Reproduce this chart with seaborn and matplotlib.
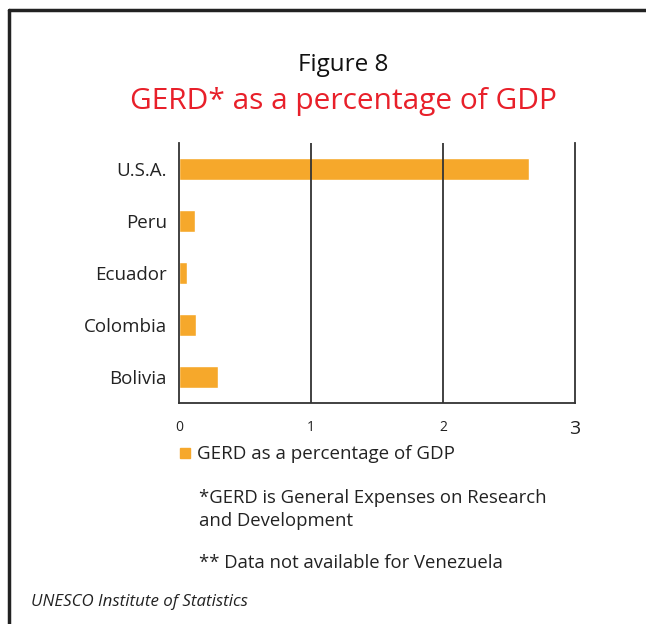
import matplotlib
matplotlib.use("Agg")
import matplotlib.pyplot as plt
import matplotlib.patches as mpatches
from matplotlib.lines import Line2D
import seaborn as sns
import pandas as pd

countries = ["U.S.A.", "Peru", "Ecuador", "Colombia", "Bolivia"]
gerd_pct = [2.65, 0.12, 0.06, 0.13, 0.29]
x_ticks = [0, 1, 2, 3]
x_tick_labels = ["0", "1", "2", "3"]

bar_color = "#F6A82B"
red = "#E8202A"

sns.set_style("white")
plt.rcParams["font.family"] = ["Open Sans", "DejaVu Sans"]

df = pd.DataFrame({"country": countries, "gerd": gerd_pct})

fig = plt.figure(figsize=(6.46, 6.24), dpi=100)
ax = fig.add_axes([0.2776, 0.3542, 0.6125, 0.4167])

sns.barplot(data=df, y="country", x="gerd", color=bar_color, width=0.42,
            saturation=1, ax=ax)

ax.set_xlim(0, 3)
ax.set_ylim(4.5, -0.5)
ax.set_xlabel("")
ax.set_ylabel("")
ax.set_xticks(x_ticks)
ax.set_xticklabels(x_tick_labels, fontsize=10, color="#222222")
ax.get_xticklabels()[3].set_fontsize(14)
ax.tick_params(axis="x", length=0, pad=12)
ax.tick_params(axis="y", length=0, pad=9, labelsize=13.5, labelcolor="#222222")

# grid lines sit on top of the bars
for v in [1, 2]:
    ax.axvline(v, color="#333333", lw=1.3, zorder=5)
ax.spines["top"].set_visible(False)
for side in ["left", "bottom", "right"]:
    ax.spines[side].set_color("#333333")
    ax.spines[side].set_linewidth(1.3)

# titles
fig.text(0.531, 1 - 65 / 624, "Figure 8", ha="center", va="center", fontsize=17.5, color="#111111")
fig.text(0.531, 1 - 101 / 624, "GERD* as a percentage of GDP", ha="center", va="center",
         fontsize=21.5, color=red)

# legend
fig.patches.append(mpatches.Rectangle((180 / 646, 1 - 458 / 624), 10 / 646, 10 / 624,
                                      transform=fig.transFigure, color=bar_color))
fig.text(197 / 646, 1 - 454 / 624, "GERD as a percentage of GDP", va="center",
         fontsize=13.5, color="#222222")

# footnotes
fig.text(199 / 646, 1 - 498 / 624, "*GERD is General Expenses on Research", va="center",
         fontsize=13.3, color="#222222")
fig.text(199 / 646, 1 - 521 / 624, "and Development", va="center",
         fontsize=13.3, color="#222222")
fig.text(199 / 646, 1 - 563 / 624, "** Data not available for Venezuela", va="center",
         fontsize=13.3, color="#222222")
fig.text(31 / 646, 1 - 602 / 624, "UNESCO Institute of Statistics", va="center",
         fontsize=12.2, style="italic", color="#222222")

# frame
fig.add_artist(Line2D([9 / 646, 1.0], [1 - 10 / 624, 1 - 10 / 624],
                      transform=fig.transFigure, color="#222222", lw=2.5))
fig.add_artist(Line2D([9 / 646, 9 / 646], [1 - 10 / 624, 0.0],
                      transform=fig.transFigure, color="#222222", lw=2.5))

fig.savefig("out.png", dpi=100)
